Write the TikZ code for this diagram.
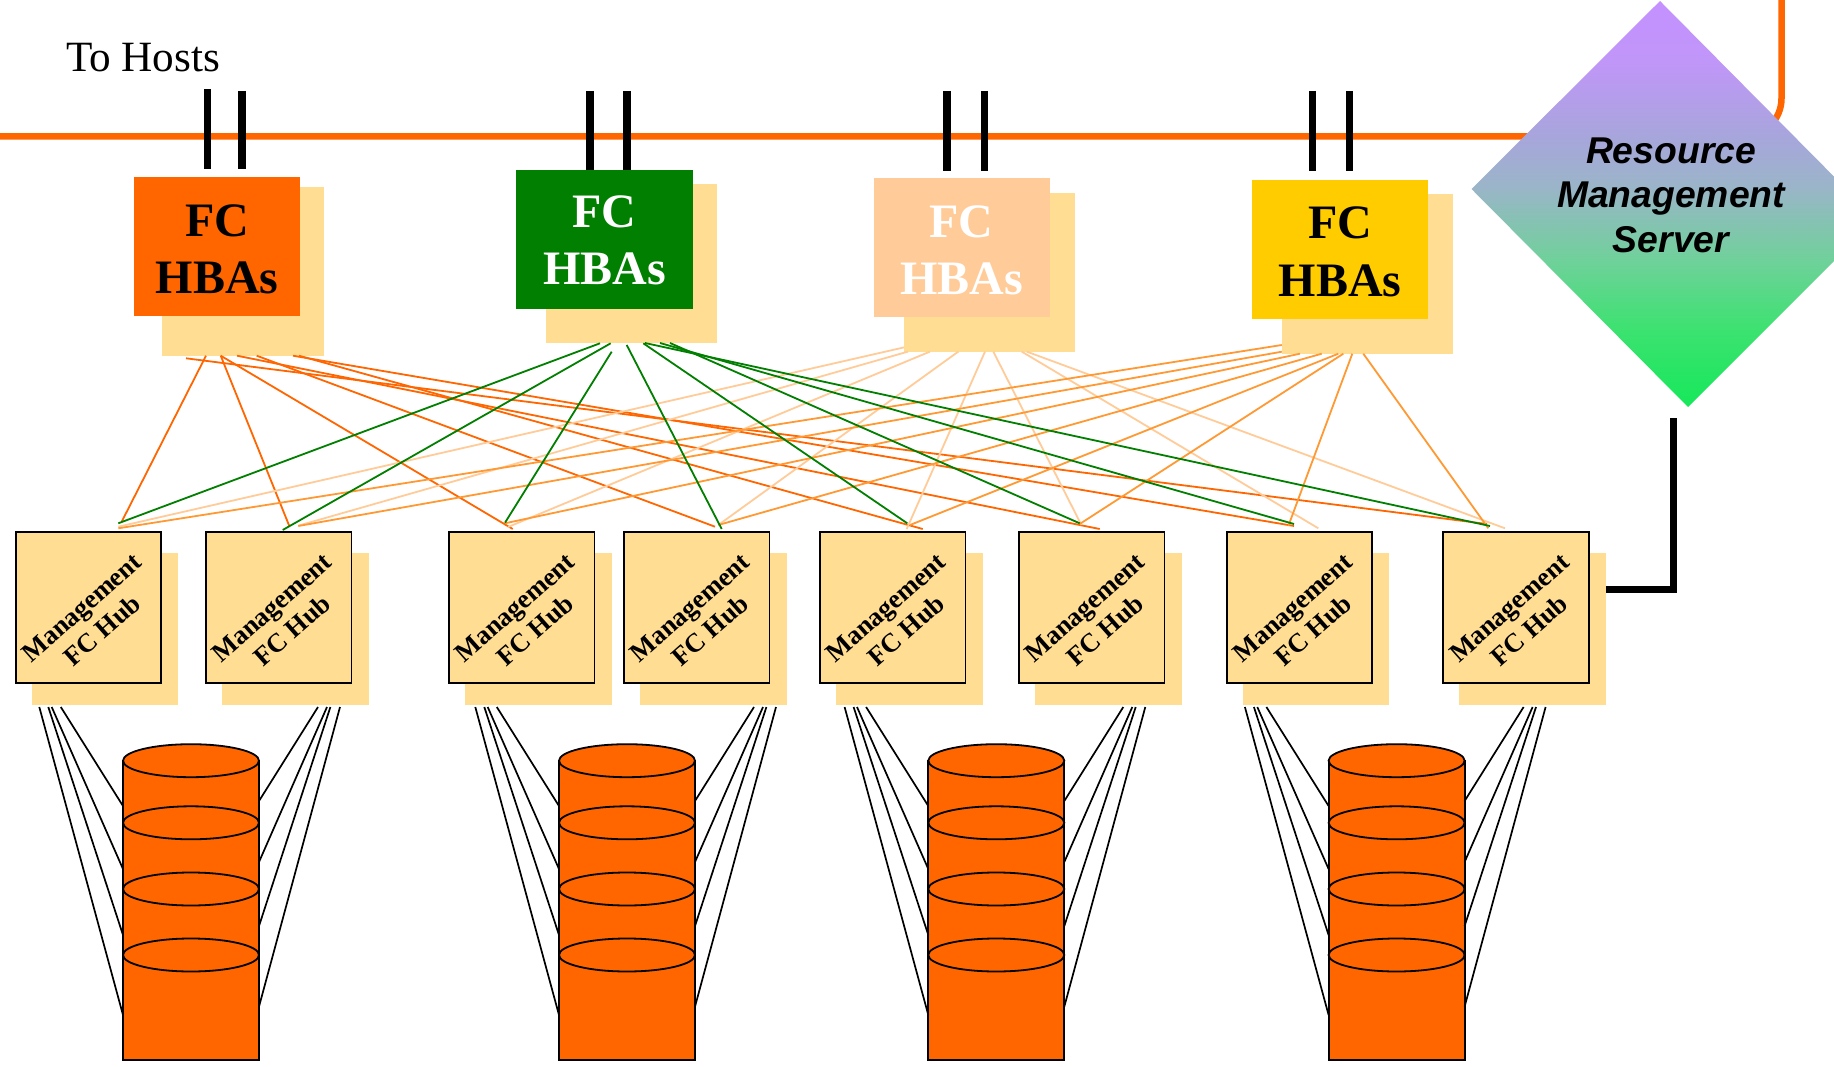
\documentclass[tikz,border=0pt]{standalone}
\usepackage{fontspec}
\setmainfont{Liberation Serif}
\setsansfont{Liberation Sans}
\usetikzlibrary{calc}
\definecolor{cOrange}{HTML}{FF6600}
\definecolor{cGreen}{HTML}{007F00}
\definecolor{cPeach}{HTML}{FFCC99}
\definecolor{cAmber}{HTML}{FF9933}
\definecolor{cGold}{HTML}{FFCC00}
\definecolor{cSand}{HTML}{FFDE94}
\definecolor{gA}{HTML}{C491FF}
\definecolor{gB}{HTML}{C096F8}
\definecolor{gC}{HTML}{A8A5DC}
\definecolor{gD}{HTML}{9AB5C8}
\definecolor{gE}{HTML}{6FD19A}
\definecolor{gF}{HTML}{3CE270}
\definecolor{gG}{HTML}{16E85A}
\pgfdeclareverticalshading{serverfade}{100bp}{
  color(0bp)=(gG); color(25bp)=(gG); color(34.5bp)=(gF); color(43bp)=(gE);
  color(52bp)=(gD); color(58.5bp)=(gC); color(67.5bp)=(gB); color(75bp)=(gA); color(100bp)=(gA)}
\tikzset{
  flat/.style={inner sep=0pt,outer sep=0pt,anchor=north west},
  sandbox/.style={flat,fill=cSand},
  hbabox/.style={flat},
  hubbox/.style={flat,fill=cSand,draw=black,line width=1.8pt,minimum width=145.4pt,minimum height=151.3pt},
  hubshadow/.style={sandbox,minimum width=146.7pt,minimum height=152.3pt},
  hbatext/.style={inner sep=0pt,align=center,font=\fontsize{48}{57.2}\selectfont\bfseries},
  hubtext/.style={inner sep=0pt,align=center,rotate=41.5,font=\fontsize{26.6}{30.7}\selectfont\bfseries},
  servertext/.style={inner sep=0pt,align=center,font=\fontsize{37.3}{44.8}\selectfont\sffamily\bfseries\itshape},
  fibre/.style={line width=1.8pt},
  bar/.style={line width=7.5pt,black},
  bus/.style={line width=6.5pt,cOrange,rounded corners=38pt},
  disk/.style={draw=black,line width=1.8pt,fill=cOrange},
  wire/.style={line width=1.7pt,black}
}
\begin{document}
\begin{tikzpicture}[x=1pt,y=-1pt]
\path[fill=white,use as bounding box] (0,0) rectangle (1834,1067);

% orange bus behind the server
\coordinate (busL) at (0,136.4);
\coordinate (busC) at (1781.5,136.4);
\coordinate (busT) at (1781.5,-5);
\draw[bus] (busL) -- (busC) -- (busT);

% server diamond
\coordinate (dT) at (1660,1);
\coordinate (dL) at (1471.5,189);
\coordinate (dB) at (1688,407);
\coordinate (dR) at (1876,219);
\shade[shading=serverfade] (dT) -- (dL) -- (dB) -- (dR) -- cycle;
\node[servertext] (srv) at (1671,195.3) {Resource\\Management\\Server};

\node[flat,font=\fontsize{43.2}{50}\selectfont,anchor=base west] (hosts) at (66,72) {To Hosts};

% HBA shadows and boxes
\node[sandbox,minimum width=162pt,minimum height=168.7pt] (hs1) at (162,187) {};
\node[sandbox,minimum width=171pt,minimum height=158.6pt] (hs2) at (546,184) {};
\node[sandbox,minimum width=171pt,minimum height=158.6pt] (hs3) at (904,193) {};
\node[sandbox,minimum width=171pt,minimum height=159.7pt] (hs4) at (1281.8,194) {};
\node[hbabox,fill=cOrange,minimum width=165.6pt,minimum height=139.5pt] (hba1) at (134.4,177) {};
\node[hbabox,fill=cGreen,minimum width=176.5pt,minimum height=138.8pt] (hba2) at (516,170) {};
\node[hbabox,fill=cPeach,minimum width=176.4pt,minimum height=139pt] (hba3) at (873.7,178) {};
\node[hbabox,fill=cGold,minimum width=176.6pt,minimum height=139pt] (hba4) at (1251.7,180) {};
\node[hbatext,text=black] (t1) at (217.3,249) {FC\\HBAs};
\node[hbatext,text=white] (t2) at (604.5,240.7) {FC\\HBAs};
\node[hbatext,text=white] (t3) at (961.5,250) {FC\\HBAs};
\node[hbatext,text=black] (t4) at (1340,251.8) {FC\\HBAs};

% black uplinks
\foreach \n/\x/\top/\bot in {a/207.7/89/169,b/241.8/91/169,c/590/91/170,d/627/91/170,e/947/91/171,f/984.6/91/171,g/1312.7/91/171,h/1349.7/91/171}{
  \coordinate (up\n) at (\x,\top);
  \coordinate (dn\n) at (\x,\bot);
  \draw[bar] (up\n) -- (dn\n);
}

% hubs
\foreach \i/\x in {1/15.8,2/206,3/449,4/624,5/820,6/1019,7/1226.7,8/1443.3}{
  \node[hubshadow] (hsh\i) at ($(\x,553)+(15.9,0)$) {};
  \node[hubbox] (hub\i) at (\x,532) {};
  \node[hubtext] (hl\i) at ($(hub\i.center)+(3.5,11.4)$) {Management\\FC Hub};
}

% HBA to hub fibres
\foreach \h/\sx/\sy/\ex/\ey in {1/44/0/105.9/-10.3,2/58.7/0/83.3/-6,3/58.7/0/63.7/-3,4/94.7/0/91/-5.3,5/137/0/102.7/-3,6/75/0/80.7/-3,7/131/0/67.3/-6,8/24/2.6/43.7/-8}{
  \draw[fibre,cOrange] ($(hs1.south west)+(\sx,\sy)$) -- ($(hub\h.north west)+(\ex,\ey)$);
}
\foreach \h/\sx/\sy/\ex/\ey in {1/0/-4.2/102.5/-5.3,2/4/0/92.3/-6.3,3/26/0/59/-5,4/54.3/0/94.3/-7,5/81/0/86.7/-3,6/89.3/0/62.4/-7,7/117.7/0/91.6/-3.7,8/122.7/0/61.7/-3.7}{
  \draw[fibre,cPeach] ($(hs3.south west)+(\sx,\sy)$) -- ($(hub\h.north west)+(\ex,\ey)$);
}
\foreach \h/\sx/\sy/\ex/\ey in {1/0/-8.7/102.5/-3.7,2/0/-2/92.3/-6,3/18.2/0/56/-8.7,4/39.9/0/94.3/-7,5/56.5/0/90/-7,6/61.5/0/60.7/-8,7/70.5/0/61.6/-6,8/81.5/0/45/-3.7}{
  \draw[fibre,cAmber] ($(hs4.south west)+(\sx,\sy)$) -- ($(hub\h.north west)+(\ex,\ey)$);
}
\foreach \h/\sx/\sy/\ex/\ey in {1/54/0.7/102.5/-8.7,2/64.7/0.7/76.7/-2,3/65.7/9.1/56/-9.3,4/80.7/2.4/97.7/-3,5/97.3/0.7/87.3/-8.7,6/124/0.4/60.7/-8.7,7/114/0.4/67.3/-8,8/99/0.4/46.7/-6}{
  \draw[fibre,cGreen] ($(hs2.south west)+(\sx,\sy)$) -- ($(hub\h.north west)+(\ex,\ey)$);
}

% link from the last hub to the server
\coordinate (srvIn) at (1673.7,418);
\coordinate (srvBend) at (1673.7,589.3);
\draw[line width=7.5pt,black,line join=miter] (hsh8.east |- srvBend) -- (srvBend) -- (srvIn);

% disk stacks
\foreach \c/\x in {1/191,2/627,3/996.3,4/1396.6}{
  \coordinate (cyl\c) at (\x,0);
  \draw[disk] ($(cyl\c)+(-68,760.7)$) rectangle ($(cyl\c)+(68,1060)$);
  \foreach \y in {760.7,822.8,889,955}{
    \draw[disk] ($(cyl\c)+(0,\y)$) ellipse [x radius=68,y radius=16.5];
  }
  \foreach \a/\b in {-151.7/1015,-142.7/935,-139.3/869,-130.2/806}{
    \draw[wire] ($(cyl\c)+(\a,707)$) -- ($(cyl\c)+(-68,\b)$);
  }
  \foreach \a/\b in {149/1006.6,139.4/926,136/862,127/801}{
    \draw[wire] ($(cyl\c)+(\a,707)$) -- ($(cyl\c)+(68,\b)$);
  }
}
\end{tikzpicture}
\end{document}
